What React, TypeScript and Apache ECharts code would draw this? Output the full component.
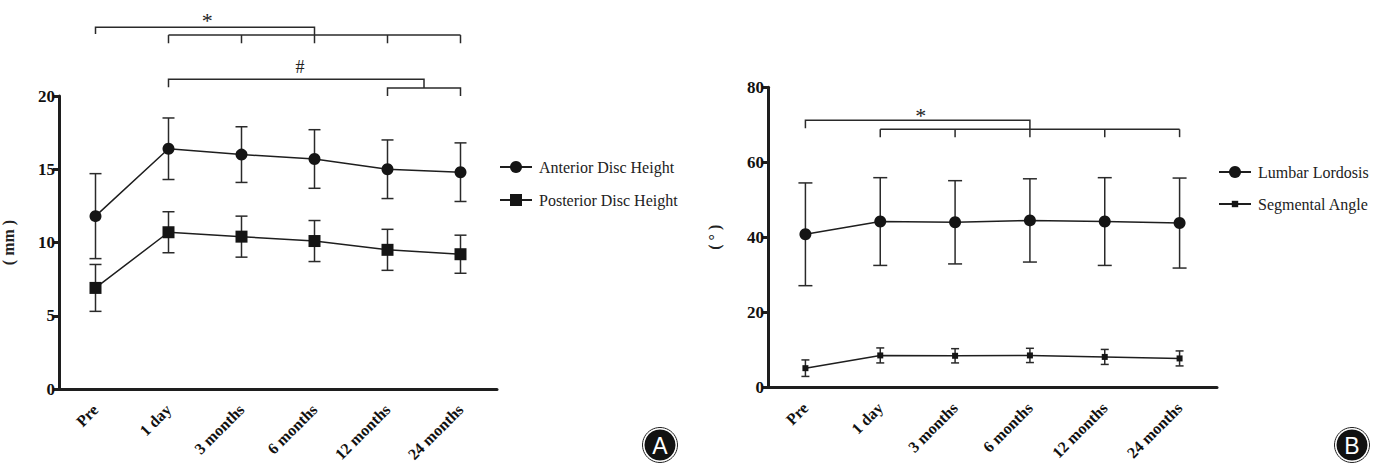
import React, { useEffect, useRef } from "react";
import * as echarts from "echarts";

const categories = ["Pre", "1 day", "3 months", "6 months", "12 months", "24 months"];
const anteriorMean = [11.8, 16.4, 16.0, 15.7, 15.0, 14.8];
const anteriorSD = [2.9, 2.1, 1.9, 2.0, 2.0, 2.0];
const posteriorMean = [6.9, 10.7, 10.4, 10.1, 9.5, 9.2];
const posteriorSD = [1.6, 1.4, 1.4, 1.4, 1.4, 1.3];
const lordosisMean = [40.8, 44.2, 44.0, 44.5, 44.2, 43.8];
const lordosisSD = [13.7, 11.7, 11.1, 11.1, 11.7, 12.0];
const segmentalMean = [5.1, 8.5, 8.4, 8.5, 8.1, 7.7];
const segmentalSD = [2.2, 2.0, 1.9, 1.9, 2.0, 2.0];

// significance annotations: polylines in (category index, value) space
const leftBrackets: number[][][] = [
  [[0, 24.23], [0, 24.7], [3, 24.7], [3, 24.16]],
  [[1, 24.16], [5, 24.16]],
  [[1, 24.16], [1, 23.6]],
  [[2, 24.16], [2, 23.6]],
  [[3, 24.16], [3, 23.6]],
  [[4, 24.16], [4, 23.6]],
  [[5, 24.16], [5, 23.6]],
  [[1, 20.6], [1, 21.14], [4.5, 21.14], [4.5, 20.55]],
  [[4, 20.0], [4, 20.55], [5, 20.55], [5, 20.0]],
];
const leftMarks = [
  { text: "*", x: 1.53, y: 25.46 },
  { text: "#", x: 2.8, y: 21.98 },
];
const rightBrackets: number[][][] = [
  [[0, 69.1], [0, 71.2], [3, 71.2], [3, 68.8]],
  [[1, 68.8], [5, 68.8]],
  [[1, 68.8], [1, 66.7]],
  [[2, 68.8], [2, 66.7]],
  [[3, 68.8], [3, 66.7]],
  [[4, 68.8], [4, 66.7]],
  [[5, 68.8], [5, 66.7]],
];
const rightMarks = [{ text: "*", x: 1.54, y: 73.5 }];

const SERIF = "'Liberation Serif', 'Times New Roman', serif";
const INK = "#1e1e1e";

function errData(mean: number[], sd: number[]) {
  return mean.map((m, i) => [i, +(m - sd[i]).toFixed(2), +(m + sd[i]).toFixed(2)]);
}

function errSeries(name: string, mean: number[], sd: number[], axis: number, cap: number) {
  return {
    type: "custom",
    name: name + " SD",
    xAxisIndex: axis,
    yAxisIndex: axis,
    z: 1,
    encode: { x: 0, y: [1, 2] },
    data: errData(mean, sd),
    renderItem: (params: any, api: any) => {
      const x = api.value(0);
      const lo = api.coord([x, api.value(1)]);
      const hi = api.coord([x, api.value(2)]);
      const st = { stroke: "#2a2a2a", lineWidth: 1.5 };
      return {
        type: "group",
        children: [
          { type: "line", shape: { x1: lo[0], y1: lo[1], x2: hi[0], y2: hi[1] }, style: st },
          { type: "line", shape: { x1: hi[0] - cap, y1: hi[1], x2: hi[0] + cap, y2: hi[1] }, style: st },
          { type: "line", shape: { x1: lo[0] - cap, y1: lo[1], x2: lo[0] + cap, y2: lo[1] }, style: st },
        ],
      };
    },
  };
}

function lineSeries(name: string, mean: number[], axis: number, symbol: string, size: number) {
  return {
    type: "line",
    name,
    xAxisIndex: axis,
    yAxisIndex: axis,
    z: 3,
    data: mean,
    symbol,
    symbolSize: size,
    showAllSymbol: true,
    lineStyle: { color: INK, width: 1.5 },
    itemStyle: { color: "#151515", borderWidth: 0 },
  };
}

function xAxis(grid: number) {
  return {
    type: "category",
    gridIndex: grid,
    data: categories,
    boundaryGap: true,
    axisLine: { lineStyle: { color: INK, width: 3 } },
    axisTick: { alignWithLabel: true, length: 7, lineStyle: { color: INK, width: 3 } },
    axisLabel: {
      rotate: 45,
      margin: 18,
      color: "#111",
      fontFamily: SERIF,
      fontWeight: "bold",
      fontSize: 16,
      interval: 0,
    },
    splitLine: { show: false },
  };
}

function yAxis(grid: number, max: number, interval: number, name: string, gap: number) {
  return {
    type: "value",
    gridIndex: grid,
    min: 0,
    max,
    interval,
    name,
    nameLocation: "middle",
    nameGap: gap,
    nameRotate: 90,
    nameTextStyle: { fontFamily: SERIF, fontWeight: "bold", fontSize: 16, color: "#222" },
    axisLine: { show: true, lineStyle: { color: INK, width: 3 } },
    axisTick: { show: true, length: 6, lineStyle: { color: INK, width: 3 } },
    axisLabel: { margin: 4, color: "#111", fontFamily: SERIF, fontWeight: "bold", fontSize: 17 },
    splitLine: { show: false },
  };
}

function legend(name: string, left: number, top: number, h: number) {
  return {
    data: [name],
    left,
    top,
    orient: "vertical",
    padding: 0,
    itemWidth: 32,
    itemHeight: h,
    itemGap: 0,
    selectedMode: false,
    textStyle: { fontFamily: SERIF, fontSize: 16, color: "#222", padding: [0, 0, 0, 2] },
  };
}

export default function App() {
  const ref = useRef<HTMLDivElement>(null);
  useEffect(() => {
    if (!ref.current) return;
    const chart = echarts.init(ref.current, undefined, { renderer: "svg" });
    chart.setOption({
      animation: false,
      backgroundColor: "#ffffff",
      grid: [
        { left: 59, top: 96, width: 438, height: 293, containLabel: false, outerBoundsMode: "none" },
        { left: 768, top: 87.3, width: 449, height: 300, containLabel: false, outerBoundsMode: "none" },
      ],
      xAxis: [xAxis(0), xAxis(1)],
      yAxis: [yAxis(0, 20, 5, "( mm )", 43), yAxis(1, 80, 20, "( ° )", 46)],
      legend: [
        legend("Anterior Disc Height", 499, 159, 15),
        legend("Posterior Disc Height", 499, 192, 15),
        legend("Lumbar Lordosis", 1218, 164, 15),
        legend("Segmental Angle", 1218, 196, 8),
      ],
      series: [
        errSeries("Anterior Disc Height", anteriorMean, anteriorSD, 0, 6),
        errSeries("Posterior Disc Height", posteriorMean, posteriorSD, 0, 6),
        lineSeries("Anterior Disc Height", anteriorMean, 0, "circle", 12),
        lineSeries("Posterior Disc Height", posteriorMean, 0, "rect", 12),
        errSeries("Lumbar Lordosis", lordosisMean, lordosisSD, 1, 7),
        errSeries("Segmental Angle", segmentalMean, segmentalSD, 1, 4),
        lineSeries("Lumbar Lordosis", lordosisMean, 1, "circle", 12),
        lineSeries("Segmental Angle", segmentalMean, 1, "rect", 6),
      ],
    });

    const px = (axis: number, xi: number, v: number) => {
      const f = Math.floor(xi);
      const c = Math.ceil(xi);
      const p1 = chart.convertToPixel({ xAxisIndex: axis, yAxisIndex: axis } as any, [f, v]) as number[];
      if (f === c) return p1;
      const p2 = chart.convertToPixel({ xAxisIndex: axis, yAxisIndex: axis } as any, [c, v]) as number[];
      const t = xi - f;
      return [p1[0] + (p2[0] - p1[0]) * t, p1[1]];
    };

    const graphics: any[] = [];
    const addBrackets = (axis: number, lines: number[][][], marks: any[]) => {
      lines.forEach((pl) => {
        graphics.push({
          type: "polyline",
          shape: { points: pl.map((p) => px(axis, p[0], p[1])) },
          style: { stroke: "#2a2a2a", lineWidth: 1.5, fill: null },
          silent: true,
        });
      });
      marks.forEach((m) => {
        const p = px(axis, m.x, m.y);
        const star = m.text === "*";
        graphics.push({
          type: "text",
          x: p[0],
          y: p[1] + (star ? 4 : 0),
          style: {
            text: m.text,
            fontFamily: SERIF,
            fontSize: star ? 22 : 18,
            fill: "#222",
            align: "center",
            verticalAlign: "middle",
          },
          silent: true,
        });
      });
    };
    addBrackets(0, leftBrackets, leftMarks);
    addBrackets(1, rightBrackets, rightMarks);

    const badge = (cx: number, cy: number, letter: string) => {
      graphics.push(
        { type: "circle", shape: { cx, cy, r: 17.5 }, style: { fill: "#fff", stroke: "#222", lineWidth: 1 } },
        { type: "circle", shape: { cx, cy, r: 15.5 }, style: { fill: "#111" } },
        {
          type: "text",
          x: cx,
          y: cy + 1,
          style: {
            text: letter,
            fontFamily: "'Liberation Sans', Arial, sans-serif",
            fontSize: 23,
            fill: "#fff",
            align: "center",
            verticalAlign: "middle",
          },
        }
      );
    };
    badge(660, 445, "A");
    badge(1352, 445, "B");

    chart.setOption({ graphic: graphics });

    return () => chart.dispose();
  }, []);

  return (
    <div
      ref={ref}
      style={{ position: "absolute", left: 0, top: 0, width: 1386, height: 464, background: "#fff" }}
    />
  );
}
